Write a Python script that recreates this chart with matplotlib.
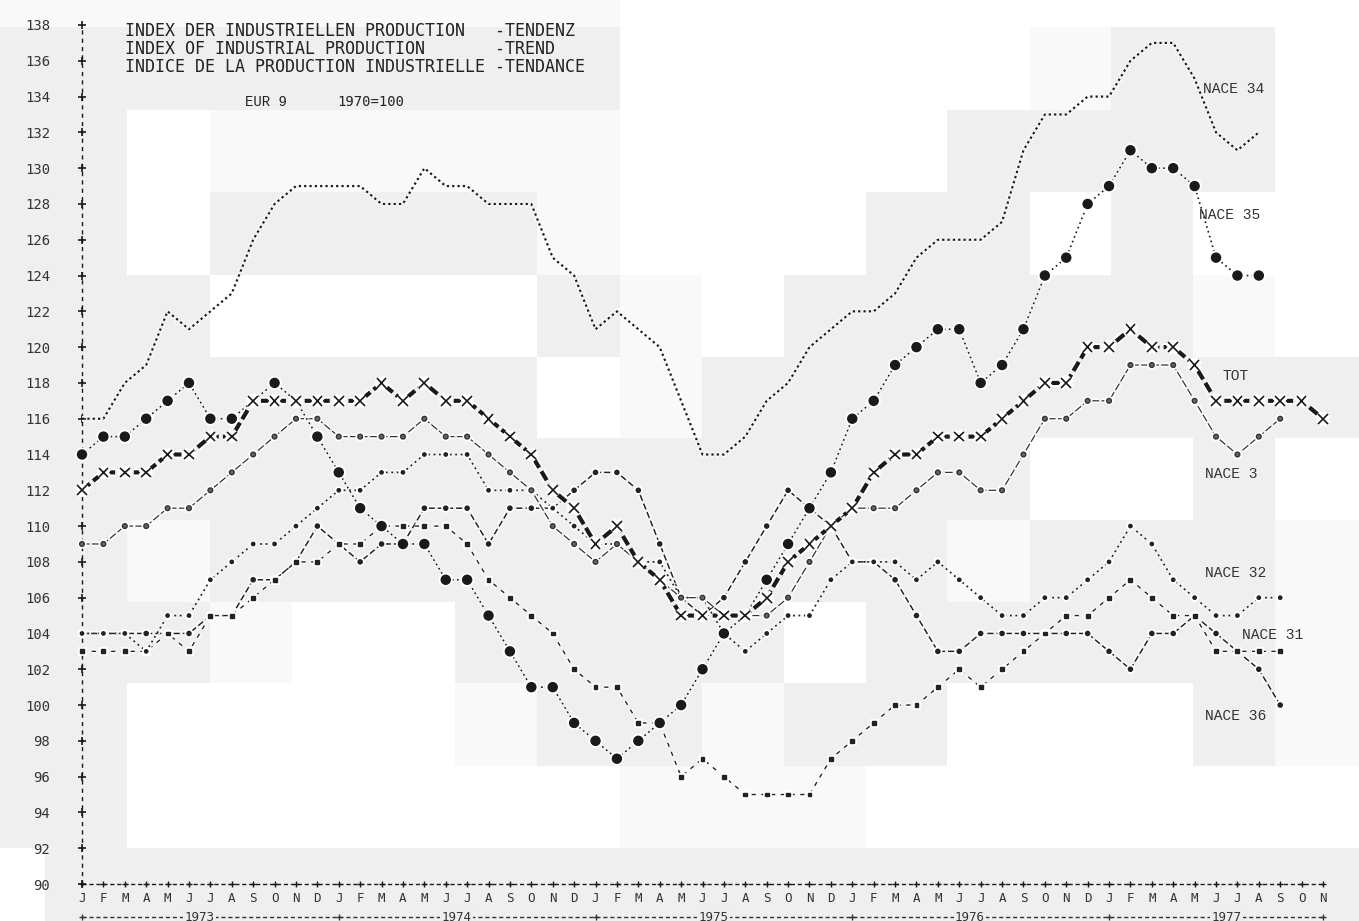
import numpy as np
import matplotlib
matplotlib.use('Agg')
import matplotlib.pyplot as plt
import matplotlib.patheffects as pe

# ---- data: monthly trend index, EUR 9, 1970=100, Jan 1973 .. Nov 1977 ----
MONTHS = list('JFMAMJJASOND') * 4 + list('JFMAMJJASON')
YEARS = ['1973', '1974', '1975', '1976', '1977']
YTICKS = list(range(90, 139, 2))

nace34 = [116, 116, 118, 119, 122, 121, 122, 123, 126, 128, 129, 129,
          129, 129, 128, 128, 130, 129, 129, 128, 128, 128, 125, 124,
          121, 122, 121, 120, 117, 114, 114, 115, 117, 118, 120, 121,
          122, 122, 123, 125, 126, 126, 126, 127, 131, 133, 133, 134,
          134, 136, 137, 137, 135, 132, 131, 132]
nace35 = [114, 115, 115, 116, 117, 118, 116, 116, 117, 118, 117, 115,
          113, 111, 110, 109, 109, 107, 107, 105, 103, 101, 101, 99,
          98, 97, 98, 99, 100, 102, 104, 105, 107, 109, 111, 113,
          116, 117, 119, 120, 121, 121, 118, 119, 121, 124, 125, 128,
          129, 131, 130, 130, 129, 125, 124, 124]
tot = [112, 113, 113, 113, 114, 114, 115, 115, 117, 117, 117, 117,
       117, 117, 118, 117, 118, 117, 117, 116, 115, 114, 112, 111,
       109, 110, 108, 107, 105, 105, 105, 105, 106, 108, 109, 110,
       111, 113, 114, 114, 115, 115, 115, 116, 117, 118, 118, 120,
       120, 121, 120, 120, 119, 117, 117, 117, 117, 117, 116]
nace3 = [109, 109, 110, 110, 111, 111, 112, 113, 114, 115, 116, 116,
         115, 115, 115, 115, 116, 115, 115, 114, 113, 112, 110, 109,
         108, 109, 108, 107, 106, 106, 105, 105, 105, 106, 108, 110,
         111, 111, 111, 112, 113, 113, 112, 112, 114, 116, 116, 117,
         117, 119, 119, 119, 117, 115, 114, 115, 116]
nace32 = [104, 104, 104, 103, 105, 105, 107, 108, 109, 109, 110, 111,
          112, 112, 113, 113, 114, 114, 114, 112, 112, 112, 111, 110,
          109, 109, 108, 108, 106, 106, 104, 103, 104, 105, 105, 107,
          108, 108, 108, 107, 108, 107, 106, 105, 105, 106, 106, 107,
          108, 110, 109, 107, 106, 105, 105, 106, 106]
nace31 = [103, 103, 103, 103, 104, 103, 105, 105, 106, 107, 108, 108,
          109, 109, 110, 110, 110, 110, 109, 107, 106, 105, 104, 102,
          101, 101, 99, 99, 96, 97, 96, 95, 95, 95, 95, 97,
          98, 99, 100, 100, 101, 102, 101, 102, 103, 104, 105, 105,
          106, 107, 106, 105, 105, 103, 103, 103, 103]
nace36 = [104, 104, 104, 104, 104, 104, 105, 105, 107, 107, 108, 110,
          109, 108, 109, 109, 111, 111, 111, 109, 111, 111, 111, 112,
          113, 113, 112, 109, 106, 105, 106, 108, 110, 112, 111, 110,
          108, 108, 107, 105, 103, 103, 104, 104, 104, 104, 104, 104,
          103, 102, 104, 104, 105, 104, 103, 102, 100]

W, H = 1359, 921
fig = plt.figure(figsize=(W / 100, H / 100), dpi=100)

# scanned paper background: light grey / white blocks
col_edges = [0, 45, 127, 210, 292, 374, 455, 537, 620, 702, 784, 866, 947,
             1030, 1111, 1193, 1275, 1359]
row_edges = [0, 27, 110, 192, 275, 357, 438, 520, 602, 683, 766, 848, 921]
blocks = ["wwwwwwwwWWWWWWWWW",
          "ggggggggWWWWWwggW",
          "ggWwwwwwWWWWggggW",
          "ggWggggwWWWggWgWW",
          "gggWWWWgwWgggggwW",
          "gggggggWwgggggggg",
          "gggggggggggggWWgW",
          "ggwgggggggggwgggw",
          "gggwWWggggWgggggw",
          "ggWWWWwggwggWWWgw",
          "ggWWWWWWwwwWWWWWW",
          "Wgggggggggggggggg"]
shade = {'W': 1.0, 'w': 0.975, 'g': 0.935}
grid = np.array([[shade[c] for c in r] for r in blocks])
bg = fig.add_axes([0, 0, 1, 1])
bg.pcolormesh(col_edges, row_edges, grid, cmap='gray', vmin=0, vmax=1,
              shading='flat')
bg.set_xlim(0, W)
bg.set_ylim(H, 0)
bg.axis('off')

ax = fig.add_axes([82 / W, (H - 884) / H, (1323 - 82) / W, (884 - 25) / H])
ax.patch.set_alpha(0)
ax.set_xlim(0, 58)
ax.set_ylim(90, 138)
for s in ax.spines.values():
    s.set_visible(False)

mono = 'DejaVu Sans Mono'
ink = '#1a1a1a'

ax.set_yticks(YTICKS)
ax.set_yticklabels([str(v) for v in YTICKS], family=mono, fontsize=10,
                   color='#333')
ax.tick_params(axis='y', length=0, pad=23)
ax.set_xticks(range(len(MONTHS)))
ax.set_xticklabels(MONTHS, family=mono, fontsize=9, color='#333')
ax.tick_params(axis='x', length=0, pad=6)

# line-printer style axes
ax.plot([0, 0], [90, 138], color=ink, lw=1.0, ls=(0, (3, 3)), clip_on=False)
ax.plot([0] * len(YTICKS), YTICKS, '+', color=ink, ms=6, mew=1.2,
        clip_on=False)
ax.plot([0, 58], [90, 90], color=ink, lw=1.0, ls=(0, (3, 2)), clip_on=False)
ax.plot(range(len(MONTHS)), [90] * len(MONTHS), '+', color=ink, ms=5,
        mew=1.0, clip_on=False)

# year row at the very bottom
yr_y = 88.15
ax.plot([0, 58], [yr_y, yr_y], color='#333', lw=1.0, ls=(0, (3, 2)),
        clip_on=False)
ax.plot([0, 12, 24, 36, 48, 58], [yr_y] * 6, '+', color='#333', ms=5,
        mew=1.0, clip_on=False)
for i, yr in enumerate(YEARS):
    ax.text(12 * i + 5.5, yr_y, yr, ha='center', va='center', family=mono,
            fontsize=9, color='#333', clip_on=False,
            bbox=dict(fc=(0.935,) * 3, ec='none', pad=1))


def halo(lw):
    return [pe.Stroke(linewidth=lw + 2.5, foreground='white'), pe.Normal()]


def series(vals, **kw):
    lw = kw.get('lw', 1.0)
    ax.plot(range(len(vals)), vals, clip_on=False, path_effects=halo(lw), **kw)


series(nace36, color='#222', lw=1.1, ls=(0, (4, 2)), marker='o', ms=3.0)
series(nace31, color='#222', lw=1.0, ls=(0, (3, 4)), marker='s', ms=2.8)
series(nace32, color='#222', lw=1.3, ls=(0, (1, 2)), marker='o', ms=2.4)
series(nace3, color='#333', lw=0.9, ls=(0, (6, 2)), marker='o', ms=3.4,
       mfc='#666')
series(nace34, color=ink, lw=1.6, ls=(0, (1, 1.4)))
series(nace35, color=ink, lw=1.2, ls=(0, (1, 2)), marker='o', ms=6.5)
series(tot, color=ink, lw=3.0, ls=(0, (2.5, 1)), marker='x', ms=7, mew=1.2)

# series names at the right end
lab = dict(family='Liberation Mono', fontsize=10.5, color='#333', va='center')
ax.text(52.4, 134.4, 'NACE 34', **lab)
ax.text(52.2, 127.4, 'NACE 35', **lab)
ax.text(53.3, 118.4, 'TOT', **lab)
ax.text(52.5, 112.9, 'NACE 3', **lab)
ax.text(52.5, 107.4, 'NACE 32', **lab)
ax.text(54.2, 103.9, 'NACE 31', **lab)
ax.text(52.5, 99.4, 'NACE 36', **lab)

# heading
head = dict(family=mono, fontsize=12, color='#222', va='center')
fig.text(125 / W, 1 - 31 / H, 'INDEX DER INDUSTRIELLEN PRODUCTION   -TENDENZ', **head)
fig.text(125 / W, 1 - 49 / H, 'INDEX OF INDUSTRIAL PRODUCTION       -TREND', **head)
fig.text(125 / W, 1 - 67 / H, 'INDICE DE LA PRODUCTION INDUSTRIELLE -TENDANCE', **head)
fig.text(245 / W, 1 - 102 / H, 'EUR 9', family='Liberation Mono', fontsize=10,
         color='#222', va='center')
fig.text(337 / W, 1 - 102 / H, '1970=100', family=mono, fontsize=10,
         color='#222', va='center')

fig.savefig('out.png', dpi=100)
